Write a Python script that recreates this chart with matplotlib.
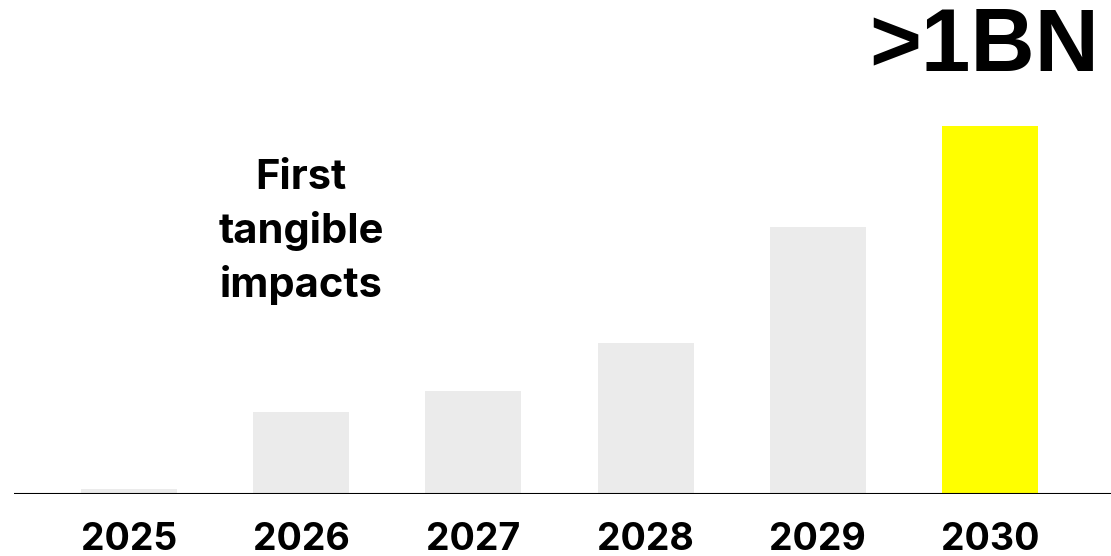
import matplotlib
matplotlib.use("Agg")
import matplotlib.pyplot as plt

# Reach in millions per year
years = ["2025", "2026", "2027", "2028", "2029", "2030"]
reach = [14, 223, 280, 410, 726, 1000]
bar_colors = ["#ebebeb"] * 5 + ["#ffff00"]

fig = plt.figure(figsize=(11.11, 5.56), dpi=100)
ax = fig.add_axes([14 / 1111, 62 / 556, 1097 / 1111, 494 / 556])

x = range(len(years))
ax.bar(x, reach, width=0.557, color=bar_colors, zorder=1)
ax.axhline(0, color="black", linewidth=1.5, zorder=2)

ax.set_xlim(-0.668, 5.703)
ax.set_ylim(0, 1342)
ax.axis("off")

for i, yr in enumerate(years):
    ax.annotate(yr, (i, 0), xytext=(0, -33), textcoords="offset points",
                ha="center", va="center", fontsize=27, fontweight="bold",
                family="Inter", color="black")

ax.text(1, 712, "First\ntangible\nimpacts", ha="center", va="center",
        fontsize=30, fontweight="bold", family="Inter", linespacing=1.45)

ax.annotate(">1BN", (5, reach[5]), xytext=(-4, 56), textcoords="offset points",
            ha="center", va="center", fontsize=64, fontweight="bold",
            family="Liberation Sans", color="black")

fig.savefig("out.png", dpi=100)
